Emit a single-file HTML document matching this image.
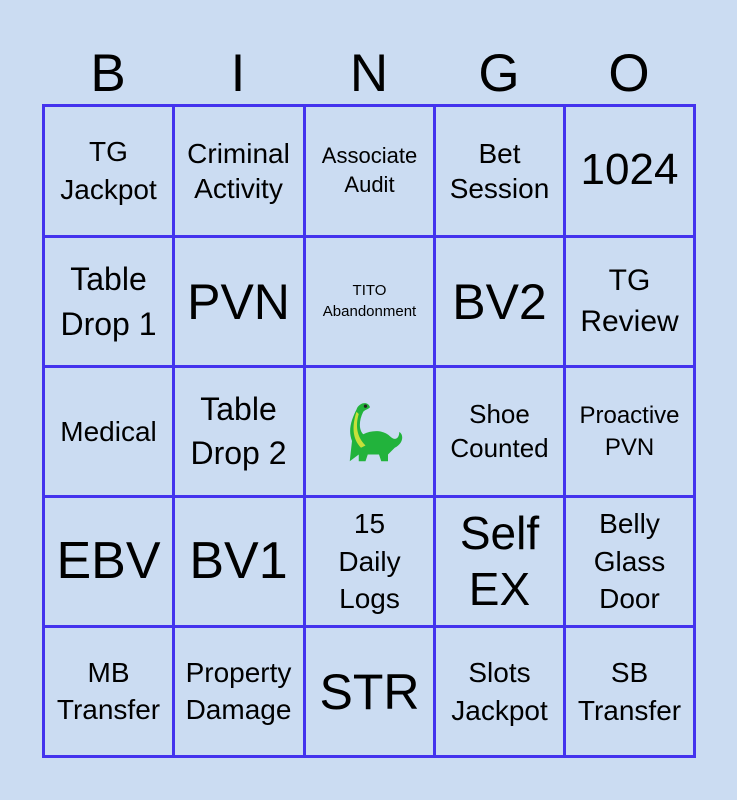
<!DOCTYPE html>
<html><head><meta charset="utf-8"><style>
body{margin:0;background:#cbdcf2;width:737px;height:800px;position:relative;overflow:hidden;font-family:"Liberation Sans",sans-serif;color:#000}
.h{position:absolute;top:44px;font-size:53px;width:130px;text-align:center;line-height:60px}
.l{position:absolute;background:#4433ee}
.c{position:absolute;width:127px;height:127px;display:flex;align-items:center;justify-content:center;text-align:center;line-height:1.2}
</style></head><body>
<div class="h" style="left:43px">B</div><div class="h" style="left:173px">I</div><div class="h" style="left:304px">N</div><div class="h" style="left:434px">G</div><div class="h" style="left:564px">O</div>

<div class="l" style="left:42px;top:104px;width:3px;height:653px"></div>
<div class="l" style="left:172px;top:104px;width:3px;height:653px"></div>
<div class="l" style="left:303px;top:104px;width:3px;height:653px"></div>
<div class="l" style="left:433px;top:104px;width:3px;height:653px"></div>
<div class="l" style="left:563px;top:104px;width:3px;height:653px"></div>
<div class="l" style="left:693px;top:104px;width:3px;height:653px"></div>
<div class="l" style="left:42px;top:104px;width:654px;height:3px"></div>
<div class="l" style="left:42px;top:235px;width:654px;height:3px"></div>
<div class="l" style="left:42px;top:365px;width:654px;height:3px"></div>
<div class="l" style="left:42px;top:495px;width:654px;height:3px"></div>
<div class="l" style="left:42px;top:625px;width:654px;height:3px"></div>
<div class="l" style="left:42px;top:755px;width:654px;height:3px"></div>

<!-- row1 -->
<div class="c" style="left:45px;top:107px;font-size:28px;line-height:1.35">TG<br>Jackpot</div>
<div class="c" style="left:175px;top:107px;font-size:28px;line-height:1.25">Criminal<br>Activity</div>
<div class="c" style="left:306px;top:107px;font-size:22px;line-height:1.3">Associate<br>Audit</div>
<div class="c" style="left:436px;top:107px;font-size:28px;line-height:1.25">Bet<br>Session</div>
<div class="c" style="left:566px;top:107px;font-size:44px">1024</div>
<!-- row2 -->
<div class="c" style="left:45px;top:238px;font-size:32px;line-height:1.4">Table<br>Drop 1</div>
<div class="c" style="left:175px;top:238px;font-size:50px">PVN</div>
<div class="c" style="left:306px;top:238px;font-size:15px;line-height:1.35">TITO<br>Abandonment</div>
<div class="c" style="left:436px;top:238px;font-size:50px">BV2</div>
<div class="c" style="left:566px;top:238px;font-size:30px;line-height:1.35">TG<br>Review</div>
<!-- row3 -->
<div class="c" style="left:45px;top:368px;font-size:28px">Medical</div>
<div class="c" style="left:175px;top:368px;font-size:32px;line-height:1.35">Table<br>Drop 2</div>
<div class="c" style="left:306px;top:368px">
<svg width="72" height="72" viewBox="0 0 64 64"><path d="M14 58 L16 40 C12 30 16 20 20 12 C22 6 30 4 32 10 C30 12 28 12 26 14 C22 22 22 30 26 34 C34 30 44 30 50 36 C54 40 58 38 58 32 C62 34 62 42 54 46 C52 48 50 50 48 52 L48 58 L42 58 L40 52 L30 52 L28 58 L22 58 L22 52 Z" fill="#22b33c"/><path d="M22 16 C19 26 20 36 28 44 L24 46 C16 38 16 26 20 14 Z" fill="#c6e03a"/><circle cx="28" cy="9" r="1.5" fill="#222"/></svg></div>
<div class="c" style="left:436px;top:368px;font-size:26px;line-height:1.3">Shoe<br>Counted</div>
<div class="c" style="left:566px;top:368px;font-size:24px;line-height:1.3">Proactive<br>PVN</div>
<!-- row4 -->
<div class="c" style="left:45px;top:498px;font-size:52px">EBV</div>
<div class="c" style="left:175px;top:498px;font-size:52px">BV1</div>
<div class="c" style="left:306px;top:498px;font-size:28px;line-height:1.35">15<br>Daily<br>Logs</div>
<div class="c" style="left:436px;top:498px;font-size:46px;line-height:1.2">Self<br>EX</div>
<div class="c" style="left:566px;top:498px;font-size:28px;line-height:1.35">Belly<br>Glass<br>Door</div>
<!-- row5 -->
<div class="c" style="left:45px;top:628px;font-size:28px;line-height:1.3">MB<br>Transfer</div>
<div class="c" style="left:175px;top:628px;font-size:28px;line-height:1.3">Property<br>Damage</div>
<div class="c" style="left:306px;top:628px;font-size:50px">STR</div>
<div class="c" style="left:436px;top:628px;font-size:28px;line-height:1.35">Slots<br>Jackpot</div>
<div class="c" style="left:566px;top:628px;font-size:28px;line-height:1.35">SB<br>Transfer</div>
</body></html>
